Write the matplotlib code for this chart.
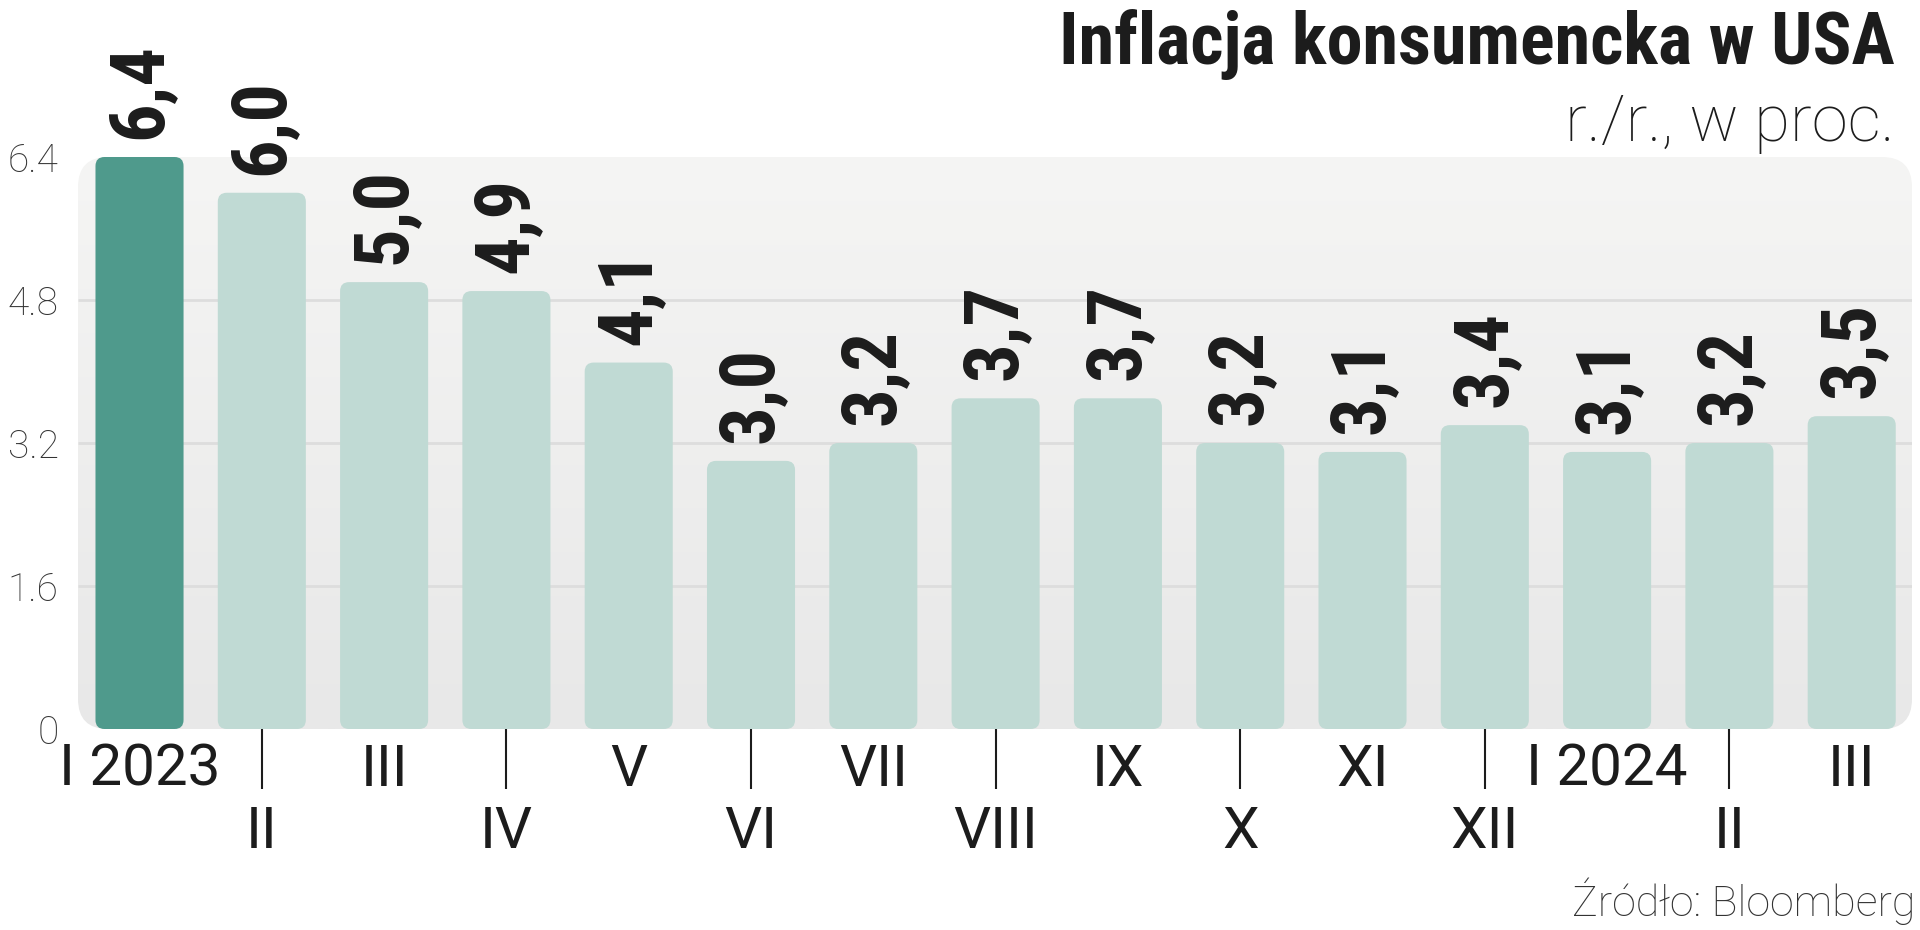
import matplotlib.pyplot as plt
import numpy as np
from matplotlib import font_manager
from matplotlib.patches import FancyBboxPatch
from matplotlib.colors import LinearSegmentedColormap

# data
months = ["I 2023", "II", "III", "IV", "V", "VI", "VII", "VIII", "IX", "X",
          "XI", "XII", "I 2024", "II", "III"]
cpi = [6.4, 6.0, 5.0, 4.9, 4.1, 3.0, 3.2, 3.7, 3.7, 3.2, 3.1, 3.4, 3.1, 3.2, 3.5]
yticks = [0, 1.6, 3.2, 4.8, 6.4]
ytick_labels = ["0", "1.6", "3.2", "4.8", "6.4"]
gridlines = [1.6, 3.2, 4.8]
highlight = [0]

title = "Inflacja konsumencka w USA"
subtitle = "r./r., w proc."
source = "Źródło: Bloomberg"

dark = "#4f9a8c"
light = "#c0dad4"
ink = "#1c1c1c"

# narrowest bold face that is installed
names = {f.name for f in font_manager.fontManager.ttflist}
cond = next((n for n in ["Roboto Condensed", "Liberation Sans Narrow", "Roboto"]
             if n in names), "DejaVu Sans")
bold_font = [cond, "DejaVu Sans"]
light_font = ["Roboto", "DejaVu Sans"]

W, H = 1920, 930
fig = plt.figure(figsize=(W / 100, H / 100), dpi=100)
ax = fig.add_axes([78 / W, 1 - 729 / H, (1912 - 78) / W, (729 - 157) / H])
xmin, xmax = -0.503, 14.493
ax.set_xlim(xmin, xmax)
ax.set_ylim(0, 6.4)
ax.patch.set_visible(False)
for s in ax.spines.values():
    s.set_visible(False)

# pixel scale of the data units, used for corner rounding
px_x = (1912 - 78) / (xmax - xmin)
px_y = (729 - 157) / 6.4
asp = px_x / px_y

# panel with vertical gradient
r_panel = 30 / px_x
panel = FancyBboxPatch((xmin, 0), xmax - xmin, 6.4,
                       boxstyle=f"round,pad=0,rounding_size={r_panel}",
                       mutation_aspect=asp, fill=False, edgecolor="none")
ax.add_patch(panel)
cmap = LinearSegmentedColormap.from_list("panel", ["#e8e8e8", "#f5f5f4"])
im = ax.imshow(np.linspace(0, 1, 256).reshape(-1, 1), extent=[xmin, xmax, 0, 6.4],
               origin="lower", aspect="auto", cmap=cmap, zorder=0)
im.set_clip_path(panel)

ax.hlines(gridlines, xmin, xmax, color="#dddddd", lw=2, zorder=1)

# bars with rounded corners
x = np.arange(len(cpi))
colors = [dark if i in highlight else light for i in x]
bars = ax.bar(x, cpi, width=0.72, color=colors)
r_bar = 9 / px_x
for b in bars:
    b.set_visible(False)
    ax.add_patch(FancyBboxPatch((b.get_x(), b.get_y()), b.get_width(), b.get_height(),
                                boxstyle=f"round,pad=0,rounding_size={r_bar}",
                                mutation_aspect=asp, facecolor=b.get_facecolor(),
                                edgecolor="none", zorder=2))

for i, v in zip(x, cpi):
    ax.annotate(f"{v:.1f}".replace(".", ","), xy=(i, v), xytext=(0, 13),
                textcoords="offset points", rotation=90, rotation_mode="anchor",
                ha="left", va="center", fontsize=55, fontweight="bold",
                family=bold_font, color=ink, annotation_clip=False)

# y axis
ax.set_yticks(yticks, ytick_labels)
ax.tick_params(axis="y", length=0, pad=14, labelsize=28, labelcolor="#333333",
               labelfontfamily=light_font)
for lbl in ax.get_yticklabels():
    lbl.set_fontweight("light")

# x axis: two rows of month labels, ticks only for the lower row
ax.set_xticks(x[1::2], [months[i] for i in x[1::2]])
ax.set_xticks(x[::2], [months[i] for i in x[::2]], minor=True)
ax.tick_params(axis="x", which="major", length=43, width=1.5, color=ink, pad=12,
               labelsize=42, labelcolor=ink, labelfontfamily=light_font)
ax.tick_params(axis="x", which="minor", length=0, pad=10,
               labelsize=42, labelcolor=ink, labelfontfamily=light_font)

fig.text(1895 / W, 1 - 64 / H, title, ha="right", va="baseline", fontsize=52,
         fontweight="bold", family=bold_font, color=ink)
fig.text(1895 / W, 1 - 141 / H, subtitle, ha="right", va="baseline", fontsize=47,
         fontweight="light", family=light_font, color=ink)
fig.text(1915 / W, 1 - 916 / H, source, ha="right", va="baseline", fontsize=31,
         fontweight="light", family=light_font, color="#333333")

fig.savefig("out.png", dpi=100)
